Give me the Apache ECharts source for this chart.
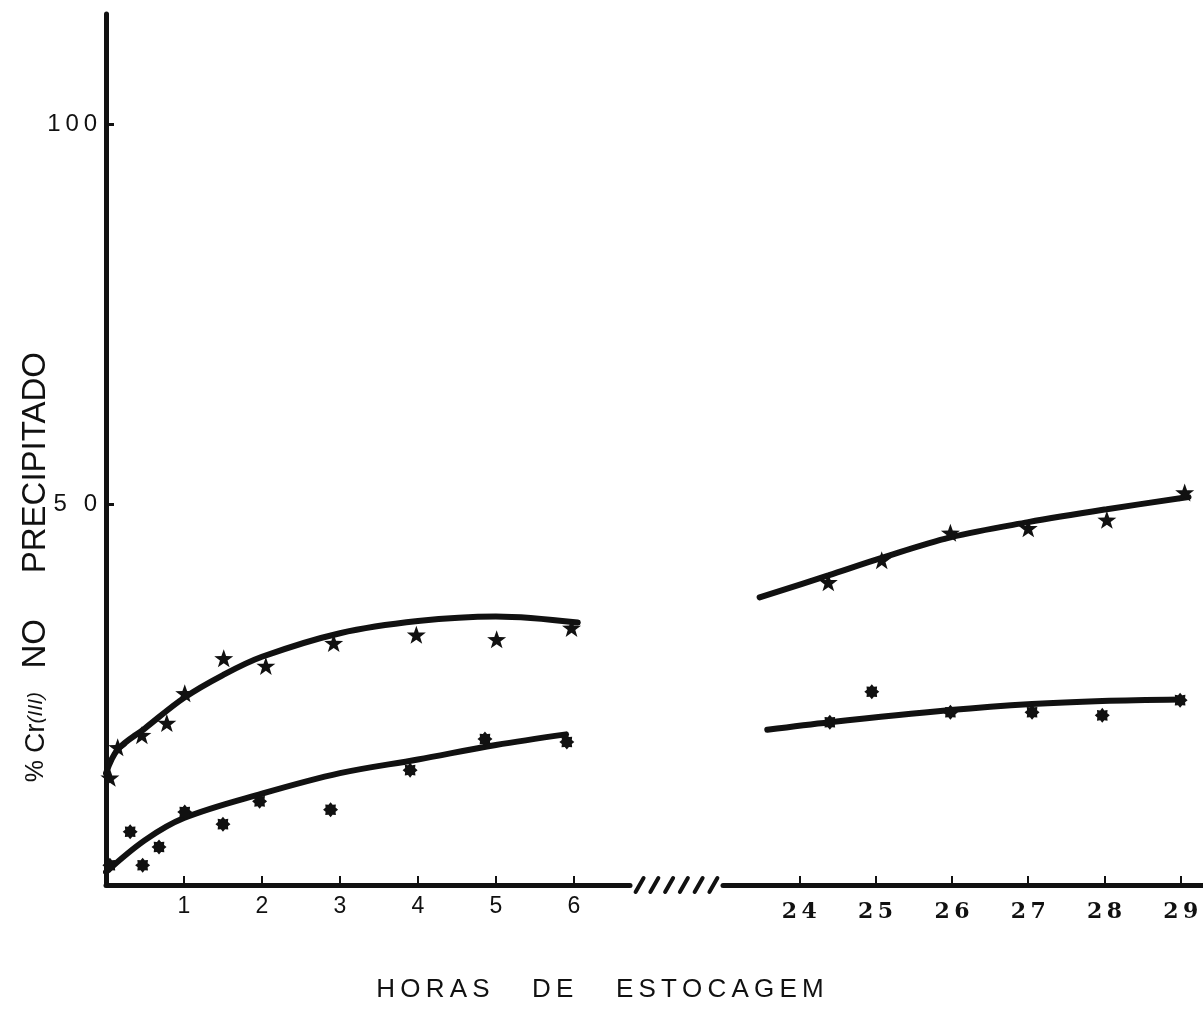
<!DOCTYPE html>
<html>
<head>
<meta charset="utf-8">
<script src="https://cdn.jsdelivr.net/npm/echarts@6/dist/echarts.min.js"></script>
<style>
  html, body { margin: 0; padding: 0; background: #fff; }
  #chart { width: 1203px; height: 1017px; }
</style>
</head>
<body>
<div id="chart"></div>
<script>
// ---- first hours of storage (0 – 6 h) ----
const starEarlyHours   = [0.05, 0.15, 0.46, 0.78, 1.01, 1.51, 2.05, 2.92, 3.98, 5.01, 5.97];
const starEarlyValues  = [14.1, 18.1, 19.7, 21.3, 25.2, 29.8, 28.8, 31.8, 32.9, 32.3, 33.8];
const starFitEarlyHours  = [0, 0.15, 0.5, 1, 1.5, 2, 3, 4, 5, 6.05];
const starFitEarlyValues = [14.7, 17.8, 20.6, 24.6, 27.6, 30.0, 33.1, 34.7, 35.3, 34.5];

const asterEarlyHours  = [0.05, 0.31, 0.47, 0.68, 1.01, 1.5, 1.97, 2.88, 3.9, 4.86, 5.91];
const asterEarlyValues = [2.6, 7.0, 2.6, 5.0, 9.6, 8.0, 11.0, 9.9, 15.1, 19.2, 18.8];
const asterFitEarlyHours  = [0, 0.5, 1, 2, 3, 4, 5, 5.9];
const asterFitEarlyValues = [1.7, 5.9, 8.8, 12.0, 14.7, 16.5, 18.4, 19.8];

// ---- later hours of storage (24 – 29 h) ----
const starLateHours   = [24.38, 25.08, 25.98, 27.0, 28.03, 29.05];
const starLateValues  = [39.8, 42.7, 46.3, 46.9, 48.0, 51.6];
const starFitLateHours  = [23.48, 24.38, 25.08, 25.98, 27.0, 28.03, 29.1];
const starFitLateValues = [37.8, 40.7, 43.0, 45.7, 47.7, 49.4, 51.0];

const asterLateHours  = [24.4, 24.95, 25.98, 27.05, 27.97, 28.99];
const asterLateValues = [21.4, 25.4, 22.7, 22.7, 22.3, 24.3];
const asterFitLateHours  = [23.58, 24.4, 25.98, 27.05, 27.97, 28.99];
const asterFitLateValues = [20.4, 21.4, 23.0, 23.8, 24.2, 24.4];

// ---- axis ticks ----
const earlyTicks = [1, 2, 3, 4, 5, 6];
const lateTicks  = [24, 25, 26, 27, 28, 29];
const yTicks     = [50, 100];

const xTitle = 'HORAS   DE   ESTOCAGEM';

const pairs = (xs, ys) => xs.map((x, i) => [x, ys[i]]);
const spaced = (s, sep) => s.split('').join(sep);

// five-pointed star and toothed asterisk symbols
const STAR = 'path://M0,-1000 L235,-324 L951,-309 L380,124 L588,809 L0,400 L-588,809 L-380,124 L-951,-309 L-235,-324 Z';
const ASTER = 'path://M100,0 L66.5,27.6 L70.7,70.7 L27.6,66.5 L0,100 L-27.6,66.5 L-70.7,70.7 L-66.5,27.6 L-100,0 L-66.5,-27.6 L-70.7,-70.7 L-27.6,-66.5 L0,-100 L27.6,-66.5 L70.7,-70.7 L66.5,-27.6 Z';

const INK = '#111';
const Y_MAX = 114.5;

function fitLine(xi, xs, ys) {
  return {
    type: 'line', xAxisIndex: xi, yAxisIndex: xi,
    data: pairs(xs, ys), smooth: 0.35,
    showSymbol: false, silent: true, z: 2,
    lineStyle: { color: INK, width: 6, cap: 'round' }
  };
}
function marks(xi, xs, ys, symbol, size) {
  return {
    type: 'scatter', xAxisIndex: xi, yAxisIndex: xi,
    data: pairs(xs, ys), symbol: symbol, symbolSize: size, z: 3,
    itemStyle: { color: INK, opacity: 1 }
  };
}

const chart = echarts.init(document.getElementById('chart'), null, { renderer: 'canvas' });

const xAxisBase = {
  type: 'value', interval: 1,
  splitLine: { show: false },
  axisLine: { show: true, onZero: false, lineStyle: { color: INK, width: 5, cap: 'round' } },
  axisTick: { show: true, inside: true, length: 9, lineStyle: { color: INK, width: 2 } }
};

chart.setOption({
  animation: false,
  backgroundColor: '#fff',
  grid: [
    { left: 106, top: 14, width: 524, bottom: 132 },
    { left: 723, top: 14, width: 480, bottom: 132 }
  ],
  xAxis: [
    Object.assign({}, xAxisBase, {
      gridIndex: 0, min: 0, max: 6.72,
      axisTick: Object.assign({}, xAxisBase.axisTick, { customValues: earlyTicks }),
      axisLabel: {
        customValues: earlyTicks, margin: 10, color: INK,
        fontFamily: 'Liberation Sans', fontSize: 23
      }
    }),
    Object.assign({}, xAxisBase, {
      gridIndex: 1, min: 23, max: 29.29,
      axisTick: Object.assign({}, xAxisBase.axisTick, { customValues: lateTicks }),
      axisLabel: {
        customValues: lateTicks, margin: 16, color: INK,
        fontFamily: 'DejaVu Serif', fontWeight: 'bold', fontSize: 22,
        formatter: v => spaced(String(v), '\u2009')
      }
    })
  ],
  yAxis: [
    {
      type: 'value', gridIndex: 0, min: 0, max: Y_MAX, interval: 50,
      splitLine: { show: false },
      axisLine: { show: true, lineStyle: { color: INK, width: 5 } },
      axisTick: { show: true, inside: true, length: 8, customValues: yTicks,
                  lineStyle: { color: INK, width: 3 } },
      axisLabel: {
        customValues: yTicks, margin: 9, color: INK,
        fontFamily: 'Liberation Sans', fontSize: 24,
        formatter: v => v === 50 ? '5\u2002\u20090' : spaced(String(v), '\u2009')
      }
    },
    {
      type: 'value', gridIndex: 1, min: 0, max: Y_MAX, interval: 50, show: false
    }
  ],
  series: [
    fitLine(0, starFitEarlyHours, starFitEarlyValues),
    fitLine(0, asterFitEarlyHours, asterFitEarlyValues),
    fitLine(1, starFitLateHours, starFitLateValues),
    fitLine(1, asterFitLateHours, asterFitLateValues),
    marks(0, starEarlyHours, starEarlyValues, STAR, [19, 18]),
    marks(0, asterEarlyHours, asterEarlyValues, ASTER, 15),
    marks(1, starLateHours, starLateValues, STAR, [19, 18]),
    marks(1, asterLateHours, asterLateValues, ASTER, 15)
  ]
});

// axis titles and the broken-axis hatching between the two time ranges
const leftEnd  = chart.convertToPixel({ xAxisIndex: 0, yAxisIndex: 0 }, [6.72, 0]);
const rightBeg = chart.convertToPixel({ xAxisIndex: 1, yAxisIndex: 1 }, [23, 0]);
const hatchCount = 6;
const hatchStep = (rightBeg[0] - leftEnd[0]) / (hatchCount + 0.3);
const hatches = [];
for (let i = 0; i < hatchCount; i++) {
  const cx = leftEnd[0] + hatchStep * (i + 0.65);
  hatches.push({
    type: 'line',
    shape: { x1: cx - 4, y1: leftEnd[1] + 7, x2: cx + 4, y2: leftEnd[1] - 7 },
    style: { stroke: INK, lineWidth: 4, lineCap: 'round' }
  });
}

const sans = 'Liberation Sans';
chart.setOption({
  graphic: [
    {
      // vertical title, read from bottom to top; its upper end is anchored
      type: 'text', x: 36, y: 352, rotation: Math.PI / 2,
      style: {
        text: '{p|% }{c|Cr}{i|(III)}{g|   }{b|NO     PRECIPITADO}',
        align: 'right', verticalAlign: 'middle', fill: INK,
        rich: {
          p: { fontFamily: sans, fontSize: 25, fill: INK },
          c: { fontFamily: sans, fontSize: 28, fill: INK },
          i: { fontFamily: sans, fontSize: 21, fontStyle: 'italic', fill: INK },
          g: { fontFamily: sans, fontSize: 28, fill: INK },
          b: { fontFamily: sans, fontSize: 33, fill: INK }
        }
      }
    },
    {
      type: 'text', x: 600, y: 990,
      style: {
        text: spaced(xTitle, '\u2009'), fill: INK,
        font: '26px "Liberation Sans"', align: 'center', verticalAlign: 'middle'
      }
    },
    { type: 'group', children: hatches }
  ]
});
</script>
</body>
</html>
